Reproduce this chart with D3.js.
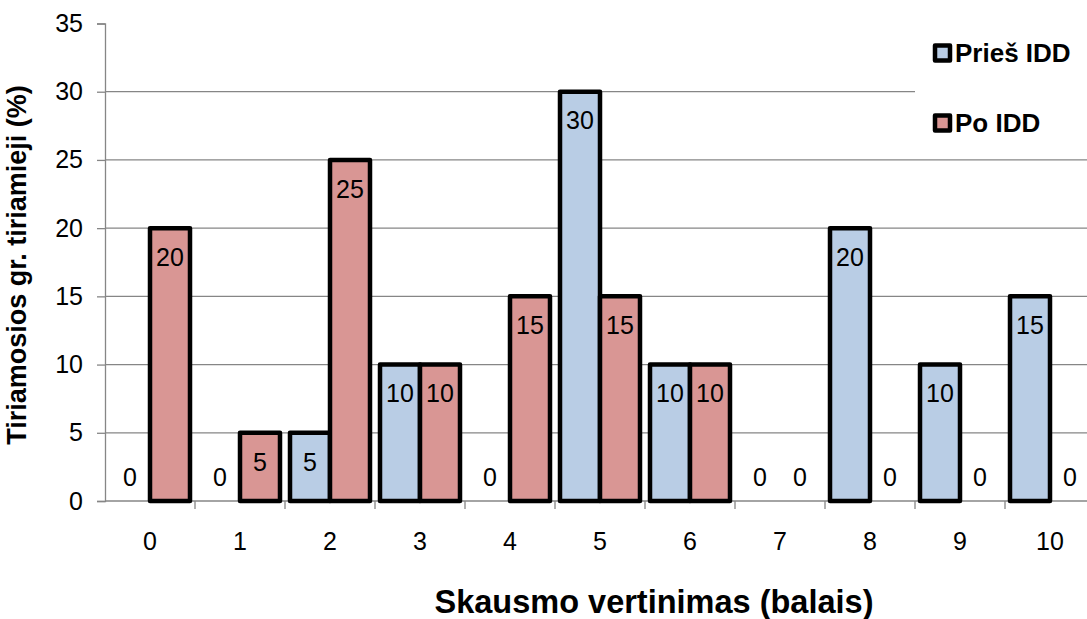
<!DOCTYPE html>
<html>
<head>
<meta charset="utf-8">
<script src="https://cdn.jsdelivr.net/npm/d3@7/dist/d3.min.js"></script>
<style>
  html, body { margin: 0; padding: 0; background: #fff; }
  svg { display: block; font-family: "Liberation Sans", Arial, sans-serif; }
</style>
</head>
<body>
<svg id="chart" width="1087" height="619"></svg>
<script>
// Pain score categories (0–10) and share of subjects per group (%)
const categories = ["0", "1", "2", "3", "4", "5", "6", "7", "8", "9", "10"];
const seriesNames = ["Prieš IDD", "Po IDD"];
const priesValues = [0, 0, 5, 10, 0, 30, 10, 0, 20, 10, 15];
const poValues = [20, 5, 25, 10, 15, 15, 10, 0, 0, 0, 0];
const yTicks = [0, 5, 10, 15, 20, 25, 30, 35];
const colors = ["#B9CDE5", "#D99694"];

const svg = d3.select("#chart");

const x = d3.scaleBand().domain(categories).range([105, 1095]).padding(0);
const x1 = d3.scaleBand().domain(seriesNames).range([0, x.bandwidth()])
  .paddingInner(0).paddingOuter(0.125);
const y = d3.scaleLinear().domain([0, 35]).range([501, 23.5]);

const rows = categories.map((c, i) => ({
  cat: c,
  values: [
    { name: seriesNames[0], v: priesValues[i], color: colors[0] },
    { name: seriesNames[1], v: poValues[i], color: colors[1] }
  ]
}));

// Horizontal gridlines (no line at the top value)
svg.append("g")
  .selectAll("line")
  .data(yTicks.filter(t => t > 0 && t < 35))
  .join("line")
  .attr("x1", 105).attr("x2", 1087)
  .attr("y1", d => y(d)).attr("y2", d => y(d))
  .attr("stroke", "#868686").attr("stroke-width", 1.3);

// Y axis
const yAxis = svg.append("g")
  .attr("transform", "translate(105,0)")
  .call(d3.axisLeft(y).tickValues(yTicks).tickSize(8).tickPadding(14));
yAxis.select(".domain").attr("stroke", "#868686").attr("stroke-width", 1.3);
yAxis.selectAll(".tick line").attr("stroke", "#868686").attr("stroke-width", 1.3);
yAxis.selectAll(".tick text")
  .attr("font-size", 25).attr("fill", "#000")
  .attr("font-family", "'Liberation Sans', Arial, sans-serif");

// X axis with ticks between categories
const xAxisG = svg.append("g").attr("transform", `translate(0,${y(0)})`);
xAxisG.append("line")
  .attr("x1", 105).attr("x2", 1087)
  .attr("stroke", "#868686").attr("stroke-width", 1.3);
xAxisG.selectAll("line.tk")
  .data(categories.slice(1))
  .join("line").attr("class", "tk")
  .attr("x1", d => x(d)).attr("x2", d => x(d))
  .attr("y1", 0).attr("y2", 8)
  .attr("stroke", "#868686").attr("stroke-width", 1.3);
xAxisG.selectAll("text")
  .data(categories)
  .join("text")
  .attr("x", d => x(d) + x.bandwidth() / 2)
  .attr("y", 40)
  .attr("dy", "0.35em")
  .attr("text-anchor", "middle")
  .attr("font-size", 25)
  .text(d => d);

// Bars
const groups = svg.append("g").selectAll("g")
  .data(rows)
  .join("g")
  .attr("transform", d => `translate(${x(d.cat)},0)`);

groups.selectAll("rect")
  .data(d => d.values.filter(v => v.v > 0))
  .join("rect")
  .attr("x", d => x1(d.name))
  .attr("width", x1.bandwidth())
  .attr("y", d => y(d.v))
  .attr("height", d => y(0) - y(d.v))
  .attr("fill", d => d.color)
  .attr("stroke", "#000")
  .attr("stroke-width", 4.5)
  .attr("stroke-linejoin", "round");

// Value labels
groups.selectAll("text")
  .data(d => d.values)
  .join("text")
  .attr("x", d => x1(d.name) + x1.bandwidth() / 2)
  .attr("y", d => d.v > 0 ? y(d.v) + 29 : y(0) - 24)
  .attr("dy", "0.35em")
  .attr("text-anchor", "middle")
  .attr("font-size", 25)
  .text(d => d.v);

// Legend
const legend = svg.append("g");
legend.append("rect")
  .attr("x", 915).attr("y", 26).attr("width", 172).attr("height", 124)
  .attr("fill", "#fff");
const li = legend.selectAll("g.item")
  .data(seriesNames)
  .join("g").attr("class", "item")
  .attr("transform", (d, i) => `translate(935,${53 + i * 70})`);
li.append("rect")
  .attr("x", 0).attr("y", -7.5).attr("width", 15).attr("height", 15)
  .attr("fill", (d, i) => colors[i])
  .attr("stroke", "#000").attr("stroke-width", 4.5)
  .attr("stroke-linejoin", "round");
li.append("text")
  .attr("x", 20).attr("y", 0).attr("dy", "0.35em")
  .attr("font-size", 26).attr("font-weight", "bold")
  .text(d => d);

// Axis titles
svg.append("text")
  .attr("x", 654).attr("y", 613)
  .attr("text-anchor", "middle")
  .attr("font-size", 32.5).attr("font-weight", "bold")
  .text("Skausmo vertinimas (balais)");

svg.append("text")
  .attr("transform", "translate(26,265) rotate(-90)")
  .attr("text-anchor", "middle")
  .attr("font-size", 27).attr("font-weight", "bold")
  .text("Tiriamosios gr. tiriamieji (%)");
</script>
</body>
</html>
